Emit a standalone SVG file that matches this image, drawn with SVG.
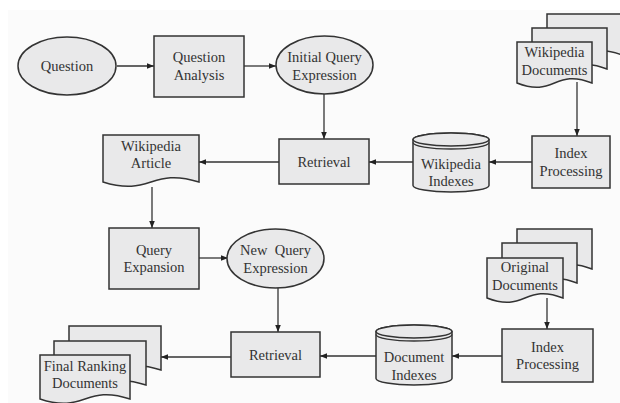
<svg xmlns="http://www.w3.org/2000/svg" width="620" height="403" viewBox="0 0 620 403">
<defs>
<style>
.s{fill:#e9e9ea;stroke:#333;stroke-width:1.5}
.t{font-family:'Liberation Serif','Times New Roman','DejaVu Serif',serif;font-size:14.5px;fill:#333;text-anchor:middle}
.c{fill:none;stroke:#333;stroke-width:1.3}
</style>
<marker id="ah" viewBox="0 0 10 10" refX="10" refY="5" markerWidth="7" markerHeight="7" markerUnits="userSpaceOnUse" orient="auto">
<path d="M0,1 L10,5 L0,9 Z" fill="#222"/>
</marker>
</defs>
<rect width="620" height="403" fill="#ffffff"/>
<rect x="8" y="10" width="612" height="393" fill="#fbfbfb"/>

<g id="connectors">
<line class="c" x1="117" y1="66" x2="154" y2="66" marker-end="url(#ah)"/>
<line class="c" x1="244" y1="66" x2="276" y2="66" marker-end="url(#ah)"/>
<line class="c" x1="324" y1="94" x2="324" y2="139" marker-end="url(#ah)"/>
<line class="c" x1="577" y1="82" x2="577" y2="136" marker-end="url(#ah)"/>
<line class="c" x1="532" y1="162" x2="489" y2="162" marker-end="url(#ah)"/>
<line class="c" x1="413" y1="162" x2="369" y2="162" marker-end="url(#ah)"/>
<line class="c" x1="279" y1="162" x2="199" y2="162" marker-end="url(#ah)"/>
<line class="c" x1="152" y1="187" x2="152" y2="228" marker-end="url(#ah)"/>
<line class="c" x1="199" y1="258" x2="228" y2="258" marker-end="url(#ah)"/>
<line class="c" x1="278" y1="288" x2="278" y2="332" marker-end="url(#ah)"/>
<line class="c" x1="547" y1="298" x2="547" y2="329" marker-end="url(#ah)"/>
<line class="c" x1="502" y1="356" x2="452" y2="356" marker-end="url(#ah)"/>
<line class="c" x1="376" y1="356" x2="320" y2="356" marker-end="url(#ah)"/>
<line class="c" x1="231" y1="357" x2="161" y2="357" marker-end="url(#ah)"/>
</g>

<g id="question">
<ellipse class="s" cx="67" cy="66" rx="49" ry="29"/>
<text class="t" x="67" y="71">Question</text>
</g>

<g id="question-analysis">
<rect class="s" x="154" y="36" width="90" height="61"/>
<text class="t" x="199" y="62">Question</text>
<text class="t" x="199" y="80">Analysis</text>
</g>

<g id="initial-query">
<ellipse class="s" cx="324.5" cy="65" rx="48.5" ry="29"/>
<text class="t" x="324.5" y="62">Initial Query</text>
<text class="t" x="324.5" y="80">Expression</text>
</g>

<g id="wikipedia-documents">
<path class="s" d="M547,14 H622 V55 C584.5,40 584.5,70 547,55 Z"/>
<path class="s" d="M532,28 H607 V69 C569.5,54 569.5,84 532,69 Z"/>
<path class="s" d="M517,42 H592 V83 C554.5,68 554.5,98 517,83 Z"/>
<text class="t" x="554.5" y="57">Wikipedia</text>
<text class="t" x="554.5" y="75">Documents</text>
</g>

<g id="index-processing-1">
<rect class="s" x="532" y="136" width="78" height="52"/>
<text class="t" x="571" y="158">Index</text>
<text class="t" x="571" y="176">Processing</text>
</g>

<g id="wikipedia-indexes">
<path class="s" d="M413,139.5 V185.5 A38,6.5 0 0 0 489,185.5 V139.5 A38,6.5 0 0 0 413,139.5 Z"/>
<ellipse class="s" cx="451" cy="139.5" rx="38" ry="6.5"/>
<path class="c" d="M413,142.5 A38,6.5 0 0 0 489,142.5" stroke-width="1.2"/>
<text class="t" x="451" y="169">Wikipedia</text>
<text class="t" x="451" y="186">Indexes</text>
</g>

<g id="retrieval-1">
<rect class="s" x="279" y="139" width="90" height="45"/>
<text class="t" x="324" y="167">Retrieval</text>
</g>

<g id="wikipedia-article">
<path class="s" d="M103,135 H199 V182 C151,167 151,197 103,182 Z"/>
<text class="t" x="151" y="151">Wikipedia</text>
<text class="t" x="151" y="168">Article</text>
</g>

<g id="query-expansion">
<rect class="s" x="109" y="228" width="90" height="61"/>
<text class="t" x="154" y="255">Query</text>
<text class="t" x="154" y="272">Expansion</text>
</g>

<g id="new-query">
<ellipse class="s" cx="275.5" cy="258.5" rx="48.5" ry="29.5"/>
<text class="t" x="275.5" y="255" xml:space="preserve">New  Query</text>
<text class="t" x="275.5" y="273">Expression</text>
</g>

<g id="original-documents">
<path class="s" d="M517,229 H592 V269 C554.5,254 554.5,284 517,269 Z"/>
<path class="s" d="M502,243 H577 V283 C539.5,268 539.5,298 502,283 Z"/>
<path class="s" d="M487,258 H563 V298 C525,283 525,313 487,298 Z"/>
<text class="t" x="525" y="272">Original</text>
<text class="t" x="525" y="290">Documents</text>
</g>

<g id="index-processing-2">
<rect class="s" x="502" y="329" width="91" height="53"/>
<text class="t" x="547.5" y="352">Index</text>
<text class="t" x="547.5" y="369">Processing</text>
</g>

<g id="document-indexes">
<path class="s" d="M376,331.5 V378.5 A38,6.5 0 0 0 452,378.5 V331.5 A38,6.5 0 0 0 376,331.5 Z"/>
<ellipse class="s" cx="414" cy="331.5" rx="38" ry="6.5"/>
<path class="c" d="M376,334.5 A38,6.5 0 0 0 452,334.5" stroke-width="1.2"/>
<text class="t" x="414" y="362">Document</text>
<text class="t" x="414" y="380">Indexes</text>
</g>

<g id="retrieval-2">
<rect class="s" x="231" y="332" width="89" height="45"/>
<text class="t" x="275.5" y="360">Retrieval</text>
</g>

<g id="final-ranking-documents">
<path class="s" d="M69,326 H161 V370 C115,355 115,385 69,370 Z"/>
<path class="s" d="M54,341 H146 V385 C100,370 100,400 54,385 Z"/>
<path class="s" d="M40,355 H130 V399 C85,384 85,414 40,399 Z"/>
<text class="t" x="85" y="371">Final Ranking</text>
<text class="t" x="85" y="388">Documents</text>
</g>
</svg>
